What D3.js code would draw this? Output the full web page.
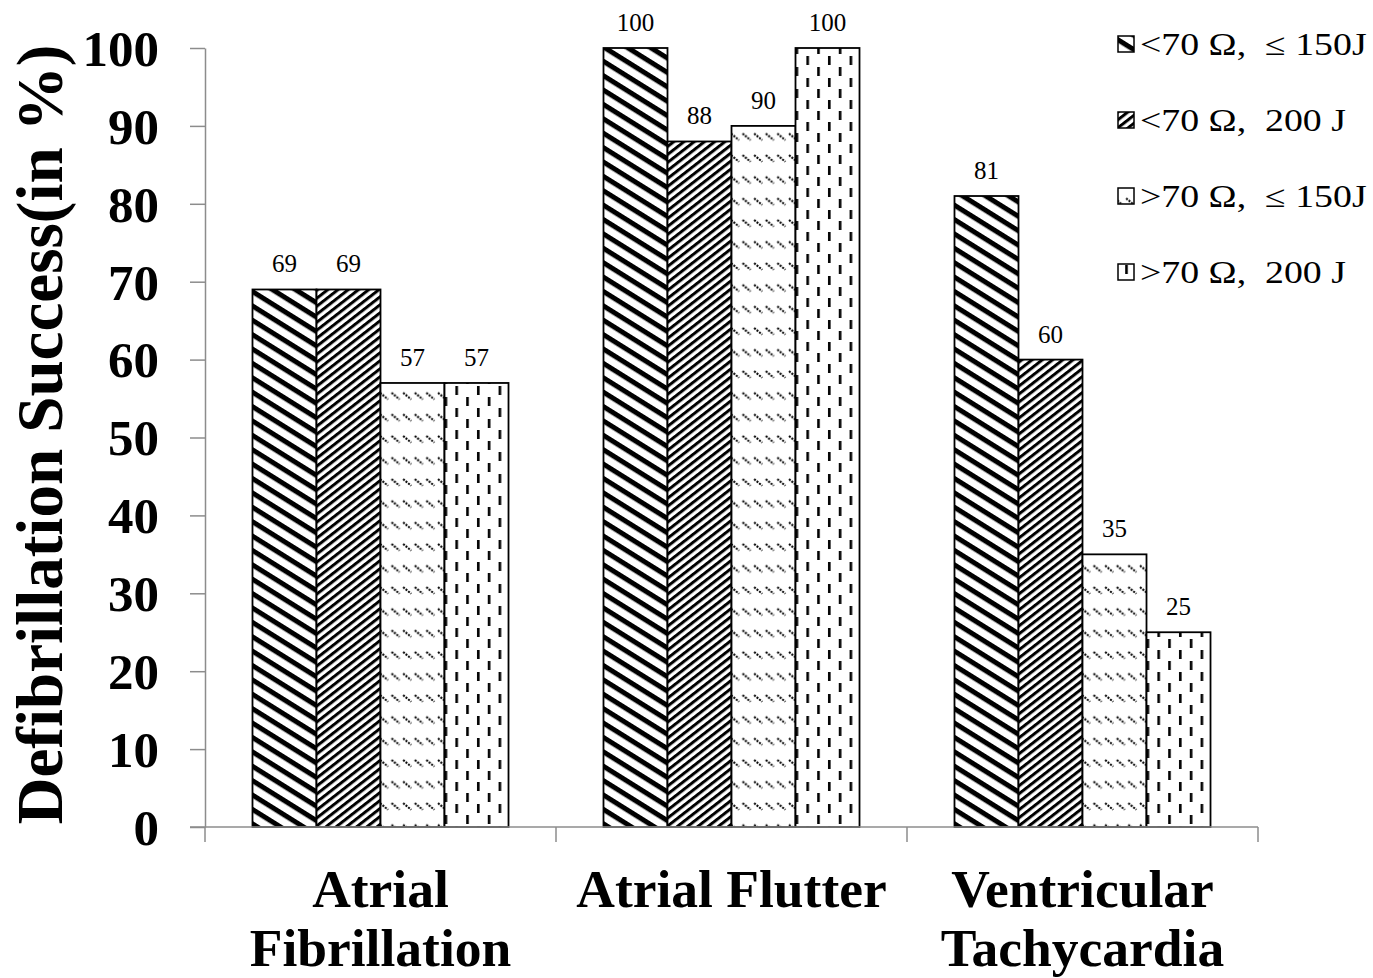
<!DOCTYPE html>
<html>
<head>
<meta charset="utf-8">
<script src="https://cdn.jsdelivr.net/npm/d3@7"></script>
<style>
  html, body { margin: 0; padding: 0; background: #fff; }
  svg { display: block; }
  text { font-family: "Liberation Serif", "Times New Roman", serif; }
</style>
</head>
<body>
<svg id="chart" width="1373" height="978"></svg>
<script>
// Defibrillation success by arrhythmia type, impedance and energy
const categories = ["Atrial Fibrillation", "Atrial Flutter", "Ventricular Tachycardia"];
const categoryLines = [["Atrial", "Fibrillation"], ["Atrial Flutter"], ["Ventricular", "Tachycardia"]];
const seriesNames = ["<70 Ω,  ≤ 150J", "<70 Ω,  200 J", ">70 Ω,  ≤ 150J", ">70 Ω,  200 J"];
const lowImpLowEnergy = [69, 100, 81];
const lowImpHighEnergy = [69, 88, 60];
const highImpLowEnergy = [57, 90, 35];
const highImpHighEnergy = [57, 100, 25];
const yTicks = [0, 10, 20, 30, 40, 50, 60, 70, 80, 90, 100];
const yTitle = "Defibrillation Success(in %)";

const seriesValues = [lowImpLowEnergy, lowImpHighEnergy, highImpLowEnergy, highImpHighEnergy];
const patternIds = ["wideDown", "narrowUp", "dashDiag", "dashVert"];

const svg = d3.select("#chart");
const defs = svg.append("defs");

// Wide downward diagonal stripes
const p1 = defs.append("pattern").attr("id", "wideDown")
  .attr("patternUnits", "userSpaceOnUse").attr("width", 20).attr("height", 12.2)
  .attr("patternTransform", "rotate(32)");
p1.append("rect").attr("width", 20).attr("height", 12.2).attr("fill", "#fff");
p1.append("rect").attr("y", 0).attr("width", 20).attr("height", 5).attr("fill", "#000");

// Narrow upward diagonal stripes
const p2 = defs.append("pattern").attr("id", "narrowUp")
  .attr("patternUnits", "userSpaceOnUse").attr("width", 20).attr("height", 6.3)
  .attr("patternTransform", "rotate(-38)");
p2.append("rect").attr("width", 20).attr("height", 6.3).attr("fill", "#fff");
p2.append("rect").attr("y", 0).attr("width", 20).attr("height", 3).attr("fill", "#000");

// Rows of small dotted diagonal dashes
const p3 = defs.append("pattern").attr("id", "dashDiag")
  .attr("patternUnits", "userSpaceOnUse").attr("width", 11.6).attr("height", 21.6);
p3.append("rect").attr("width", 11.6).attr("height", 21.6).attr("fill", "#fff");
p3.append("line").attr("x1", 1).attr("y1", 4).attr("x2", 9).attr("y2", 10.5)
  .attr("stroke", "#000").attr("stroke-width", 2).attr("stroke-dasharray", "2 1.2");

// Staggered vertical dashes
const p4 = defs.append("pattern").attr("id", "dashVert")
  .attr("patternUnits", "userSpaceOnUse").attr("width", 21.6).attr("height", 22);
p4.append("rect").attr("width", 21.6).attr("height", 22).attr("fill", "#fff");
p4.append("rect").attr("x", 2).attr("y", 1).attr("width", 2.6).attr("height", 9).attr("fill", "#000");
p4.append("rect").attr("x", 12.8).attr("y", 12).attr("width", 2.6).attr("height", 9).attr("fill", "#000");

// Scales
const x0 = d3.scaleBand().domain(categories).range([205, 1258]).paddingInner(0).paddingOuter(0);
const x1 = d3.scaleBand().domain(d3.range(4)).range([0, x0.bandwidth()]).paddingInner(0).paddingOuter(0.742);
const y = d3.scaleLinear().domain([0, 100]).range([827, 48]);

const axisColor = "#8c8c8c";

// Y axis
const yAxis = svg.append("g").attr("transform", "translate(205,0)")
  .call(d3.axisLeft(y).tickValues(yTicks).tickSize(15).tickPadding(31).tickSizeOuter(0));
yAxis.select(".domain").attr("stroke", axisColor).attr("stroke-width", 1.5);
yAxis.selectAll(".tick line").attr("stroke", axisColor).attr("stroke-width", 1.5);
yAxis.selectAll(".tick text")
  .attr("font-family", "'Liberation Serif', 'Times New Roman', serif")
  .attr("font-size", 51).attr("font-weight", "bold").attr("fill", "#000")
  .attr("dy", "0.34em");

// Bars
const groups = svg.append("g").selectAll("g").data(categories).join("g")
  .attr("transform", d => `translate(${x0(d)},0)`);

groups.selectAll("rect")
  .data((c, ci) => seriesValues.map((vals, si) => ({ si, v: vals[ci] })))
  .join("rect")
  .attr("x", d => x1(d.si))
  .attr("y", d => y(d.v))
  .attr("width", x1.bandwidth())
  .attr("height", d => y(0) - y(d.v))
  .attr("fill", d => `url(#${patternIds[d.si]})`)
  .attr("stroke", "#000").attr("stroke-width", 1.8);

groups.selectAll("text.val")
  .data((c, ci) => seriesValues.map((vals, si) => ({ si, v: vals[ci] })))
  .join("text").attr("class", "val")
  .attr("x", d => x1(d.si) + x1.bandwidth() / 2)
  .attr("y", d => y(d.v) - 17)
  .attr("text-anchor", "middle")
  .attr("font-size", 25).attr("fill", "#000")
  .text(d => d.v);

// X axis
const xAxisG = svg.append("g");
xAxisG.append("line").attr("x1", 190).attr("x2", 1258).attr("y1", 827).attr("y2", 827)
  .attr("stroke", axisColor).attr("stroke-width", 1.5);
const boundaries = categories.map(c => x0(c)).concat([x0.range()[1]]);
xAxisG.selectAll("line.tk").data(boundaries).join("line").attr("class", "tk")
  .attr("x1", d => d).attr("x2", d => d).attr("y1", 827).attr("y2", 842)
  .attr("stroke", axisColor).attr("stroke-width", 1.5);

categories.forEach((c, i) => {
  const t = svg.append("text")
    .attr("x", x0(c) + x0.bandwidth() / 2)
    .attr("y", 907)
    .attr("text-anchor", "middle")
    .attr("font-size", 53.5).attr("font-weight", "bold").attr("fill", "#000");
  categoryLines[i].forEach((line, li) => {
    t.append("tspan").attr("x", x0(c) + x0.bandwidth() / 2).attr("dy", li === 0 ? 0 : 59).text(line);
  });
});

// Y title
svg.append("text")
  .attr("transform", `translate(62,${(48 + 827) / 2 - 3}) rotate(-90)`)
  .attr("text-anchor", "middle")
  .attr("font-size", 65).attr("font-weight", "bold").attr("fill", "#000")
  .text(yTitle);

// Legend
const legend = svg.append("g");
seriesNames.forEach((name, i) => {
  const cy = 44 + i * 76;
  legend.append("rect").attr("x", 1118).attr("y", cy - 8).attr("width", 16).attr("height", 16)
    .attr("fill", `url(#${patternIds[i]})`).attr("stroke", "#000").attr("stroke-width", 1.5);
  legend.append("text")
    .attr("transform", `translate(1140,${cy + 11}) scale(1.22,1)`)
    .attr("font-size", 31).attr("fill", "#000")
    .attr("xml:space", "preserve").style("white-space", "pre")
    .text(name);
});
</script>
</body>
</html>
